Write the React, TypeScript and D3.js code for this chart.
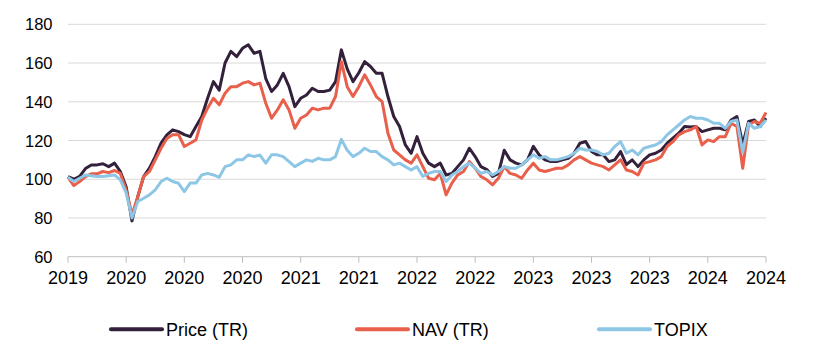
import React from 'react';
import * as d3 from 'd3';

// tick labels along the bottom (evenly spaced, as in the source chart)
const xTickLabels = [
  '2019', '2020', '2020', '2020', '2021', '2021', '2022',
  '2022', '2023', '2023', '2023', '2024', '2024',
];
const yTicks = [60, 80, 100, 120, 140, 160, 180];

const priceTR = [
  101.4, 100, 101.5, 105.5, 107.4, 107.4, 108, 106.5, 108.3, 104,
  96, 78.5, 91, 101.4, 105.7, 111.7, 118.6, 122.9, 125.5, 124.6,
  123, 122, 127.2, 132.4, 141.8, 150.4, 146, 160, 166, 163.3,
  167.6, 169.4, 165, 166, 152, 145.3, 148.7, 154.7, 147.8, 137.5,
  141.8, 143.5, 147, 145.3, 145.3, 146, 150.4, 166.8, 157, 150.4,
  155, 160.7, 158.2, 154.7, 154.7, 142.7, 132.4, 127.2, 117.7, 113.4,
  122, 113.4, 108.3, 106.5, 108.3, 102.2, 103, 106.5, 110, 116,
  111.7, 106.5, 105, 101.4, 103, 115, 110, 108.3, 107.4, 110,
  117, 112.6, 110, 109.1, 109.1, 110, 110.8, 113.4, 118.6, 119.5,
  114.3, 112.6, 112.6, 109.1, 110, 114.3, 107.5, 110, 106.5, 110,
  112.6, 113.4, 115.1, 118.6, 121.2, 123.8, 127.2, 127, 127.2, 124.6,
  125.5, 126.3, 126.3, 125.5, 130.6, 132.4, 118, 129.8, 130.6, 127.2,
  131.5,
];
const navTR = [
  101, 96.7, 98.8, 101.4, 102.8, 102.8, 104, 103.4, 104.5, 103,
  94.5, 81.6, 91, 101.4, 104, 110, 116, 121, 123, 123,
  116.9, 118.6, 120.3, 130.6, 136.7, 141.8, 138.4, 144.4, 147.8, 147.8,
  149.6, 150.4, 148.7, 149.6, 139.2, 131.5, 135.8, 141, 135.8, 126.3,
  131.5, 133.2, 136.7, 135.8, 136.7, 136.7, 142.7, 160.7, 147.8, 142.7,
  147.8, 153.9, 148.7, 142.7, 140.1, 123.8, 115.1, 112.6, 110, 108.3,
  112.6, 106.5, 100.5, 99.7, 103, 91.9, 98, 102.2, 104, 109.1,
  105.7, 101.4, 99.7, 97.1, 100.5, 106.5, 103, 102.2, 100.5, 104.8,
  108.3, 104.8, 104, 104.8, 105.7, 105.7, 107.4, 110, 111.7, 110,
  108.3, 107.4, 106.5, 104.8, 107.4, 110, 104.8, 104, 102.2, 108.3,
  109.1, 110, 111.7, 116.9, 119.4, 122.9, 124.6, 125.5, 127.2, 117.7,
  120.3, 119.4, 122, 122, 128.9, 127.2, 105.7, 128, 129.8, 128.9,
  134.5,
];
const topix = [
  101, 98.8, 100.5, 102.2, 101.8, 101.4, 101.4, 101.8, 102.2, 99.7,
  92.8, 80, 88.5, 90.2, 91.9, 94.5, 98.8, 100.5, 98.8, 97.9,
  93.6, 98, 98, 102.2, 103, 102.2, 101, 106.5, 107.4, 110,
  110, 112.6, 111.7, 112.5, 108.3, 112.6, 112.6, 111.7, 109.1, 106.5,
  108.3, 110, 109.2, 110.8, 110, 110, 111.7, 120.6, 115, 111.7,
  113.4, 116, 114.3, 114.3, 111.7, 110, 107.4, 108.3, 106.5, 104.8,
  106.5, 101.4, 103, 104, 104, 98.8, 102.2, 104, 106.5, 108.3,
  105.7, 103, 104, 102.2, 104, 106.5, 105.7, 105.7, 107.4, 110,
  112.6, 110.8, 111.7, 110, 110, 110.8, 111.7, 113.4, 116, 115.1,
  115.1, 114.3, 112.6, 113.4, 116.9, 119.4, 113.4, 115.1, 112.6, 116,
  116.9, 117.7, 119.4, 122.9, 125.5, 128, 130.6, 132.4, 131.5, 131.5,
  130.6, 128.9, 128.9, 126.3, 129.8, 130.6, 114, 128.9, 126.3, 127.2,
  130.6,
];

const series = [
  {name: 'Price (TR)', values: priceTR, color: '#33203b'},
  {name: 'NAV (TR)', values: navTR, color: '#e8604c'},
  {name: 'TOPIX', values: topix, color: '#8ec6e6'},
];

const W = 831;
const H = 364;
const left = 68;
const right = 766;
const top = 24.3;
const bottom = 256.7;
const font = '"Liberation Sans", Arial, sans-serif';

const App = () => {
  const n = priceTR.length;
  const x = d3.scaleLinear().domain([0, n - 1]).range([left, right]);
  const y = d3.scaleLinear().domain([60, 180]).range([bottom, top]);
  const xt = d3
    .scalePoint<number>()
    .domain(d3.range(xTickLabels.length))
    .range([left, right]);

  const line = d3
    .line<number>()
    .x((_, i) => x(i))
    .y(d => y(d));

  const legendX = [111, 357, 599];

  return (
    <svg
      width={W}
      height={H}
      style={{position: 'absolute', left: 0, top: 0, background: '#fff'}}
      fontFamily={font}
    >
      {/* gridlines */}
      {yTicks
        .filter(t => t > 60)
        .map(t => (
          <line
            key={t}
            x1={left}
            x2={right}
            y1={y(t)}
            y2={y(t)}
            stroke="#d9d9d9"
            strokeWidth={1}
          />
        ))}
      {yTicks.map(t => (
        <text
          key={'yl' + t}
          x={52.5}
          y={y(t) + 6}
          textAnchor="end"
          fontSize={16.5}
          fill="#000"
        >
          {t}
        </text>
      ))}

      {/* x axis */}
      <line x1={left} x2={right} y1={bottom} y2={bottom} stroke="#bfbfbf" />
      {xTickLabels.map((lab, i) => (
        <g key={'xt' + i} transform={`translate(${xt(i)},0)`}>
          <line y1={bottom} y2={bottom + 6} stroke="#bfbfbf" />
          <text y={284} textAnchor="middle" fontSize={18} fill="#000">
            {lab}
          </text>
        </g>
      ))}

      {/* series */}
      {series.map(s => (
        <path
          key={s.name}
          d={line(s.values) || ''}
          fill="none"
          stroke={s.color}
          strokeWidth={3}
          strokeLinejoin="round"
        />
      ))}

      {/* legend */}
      {series.map((s, i) => (
        <g key={'lg' + s.name}>
          <line
            x1={legendX[i]}
            x2={legendX[i] + 51}
            y1={329.3}
            y2={329.3}
            stroke={s.color}
            strokeWidth={4}
            strokeLinecap="round"
          />
          <text x={legendX[i] + 55} y={336} fontSize={18} fill="#000">
            {s.name}
          </text>
        </g>
      ))}
    </svg>
  );
};

export default App;
